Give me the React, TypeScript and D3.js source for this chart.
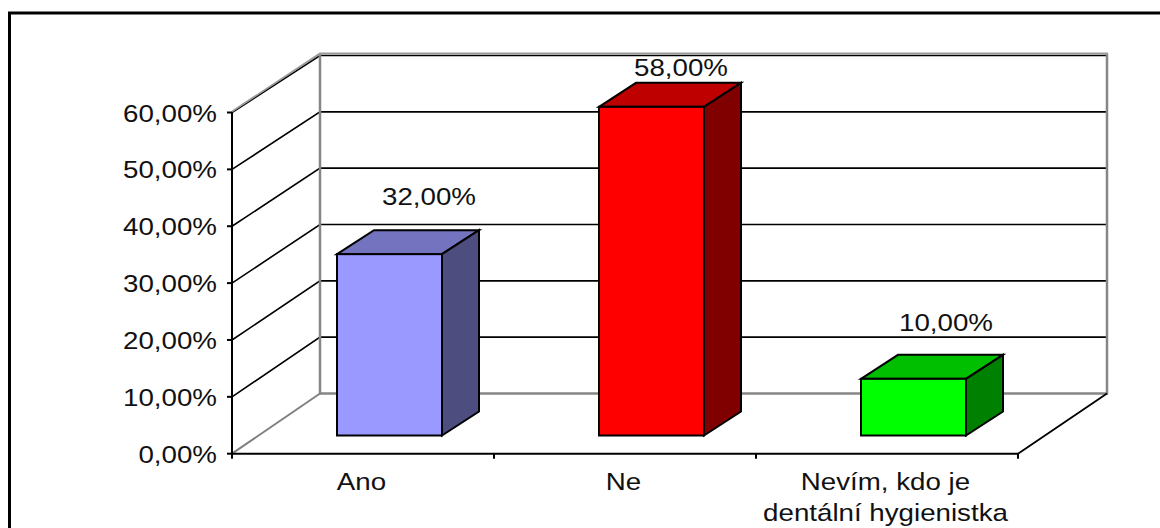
import React from "react";
import * as d3 from "d3";

const categories = ["Ano", "Ne", "Nevím, kdo je|dentální hygienistka"];
const shares = [32, 58, 10];
const yTicks = [0, 10, 20, 30, 40, 50, 60];
const faceColors = ["#9999ff", "#ff0000", "#00ff00"];
const topColors = ["#7373bf", "#bf0000", "#00bf00"];
const sideColors = ["#4d4d80", "#800000", "#008000"];

const FONT = "'Liberation Sans', Arial, sans-serif";
const fmt = (v: number) => v.toFixed(2).replace(".", ",") + "%";

// Front plane of the plot and the oblique offset to the back wall.
const x0 = 232;
const x1 = 1018;
const depthX = 88;

// Bars stand part way into the floor; these give the run of the bar depth.
const barDepthX = 37;
const barDepthY = -24;
const barWidth = 105;
const barFrontX = 26.5;

// Offsets of each value label from the centre and back-top edge of its bar.
const labelShiftX = [39.5, 29.5, 32.5];
const labelShiftY = [-25, -7, -24];

// All chart text uses a horizontally widened sans-serif.
function Label(props: { x: number; y: number; anchor: string; children: React.ReactNode }) {
  return (
    <text
      transform={`translate(${props.x},${props.y}) scale(1.155,1)`}
      textAnchor={props.anchor}
      stroke="none"
      fill="#111"
    >
      {props.children}
    </text>
  );
}

export default function App() {
  const x = d3.scaleBand<string>().domain(categories).range([x0, x1]);
  const y = d3.scaleLinear().domain([0, 60]).range([453.7, 112.5]);
  const yBack = d3.scaleLinear().domain([0, 60]).range([393.5, 55.5]);
  const yBar = d3.scaleLinear().domain([0, 60]).range([435.5, 95.5]);
  const line = d3.line<[number, number]>();

  const backL = x0 + depthX;
  const backR = x1 + depthX + 1;

  return (
    <svg
      width={1160}
      height={528}
      style={{ position: "absolute", left: 0, top: 0, background: "#fff" }}
      fontFamily={FONT}
      fontSize={24}
    >
      {/* outer chart frame, running past the right and bottom of the page */}
      <rect x={9.5} y={13} width={1180} height={560} fill="none" stroke="#000" strokeWidth={3} />

      {/* gridlines wrapping the side wall and back wall */}
      {yTicks.filter((t) => t > 0).map((t) => (
        <path
          key={t}
          d={line([
            [x0, y(t)],
            [backL, yBack(t)],
            [backR, yBack(t)],
          ]) ?? ""}
          fill="none"
          stroke="#000"
          strokeWidth={1.6}
        />
      ))}

      {/* back wall, floor outline and the grey edge above the top gridline */}
      <path
        d={`M${backL},${yBack(60) - 2}V${yBack(0)}H${backR}V${yBack(60) - 2}`}
        fill="none"
        stroke="#868686"
        strokeWidth={2.5}
      />
      <path
        d={`M${x0},${y(60) - 1}L${backL},${yBack(60) - 2}H${backR + 1}`}
        fill="none"
        stroke="#999"
        strokeWidth={1.8}
      />
      <path
        d={line([[x0, y(0)], [backL, yBack(0)]]) ?? ""}
        fill="none"
        stroke="#808080"
        strokeWidth={2}
      />
      <path
        d={line([[x1, y(0)], [backR, yBack(0)]]) ?? ""}
        fill="none"
        stroke="#000"
        strokeWidth={1.8}
      />

      {/* value axis */}
      <line x1={x0} x2={x0} y1={y(0)} y2={y(60)} stroke="#000" strokeWidth={2} />
      {yTicks.map((t) => (
        <g key={t}>
          <line x1={x0 - 5} x2={x0} y1={y(t)} y2={y(t)} stroke="#000" strokeWidth={2} />
          <Label x={217} y={y(t) + 9} anchor="end">
            {fmt(t)}
          </Label>
        </g>
      ))}

      {/* category axis */}
      <line x1={x0 - 1} x2={x1} y1={y(0)} y2={y(0)} stroke="#000" strokeWidth={2} />
      {[0, 1, 2, 3].map((i) => {
        const tx = x0 + i * x.step();
        return <line key={i} x1={tx} x2={tx} y1={y(0)} y2={y(0) + 5} stroke="#000" strokeWidth={2} />;
      })}
      {categories.map((c) => {
        const cx = (x(c) ?? 0) + x.bandwidth() / 2 - 1.5;
        return c.split("|").map((part, i) => (
          <Label key={part} x={cx} y={489.5 + i * 31.5} anchor="middle">
            {part}
          </Label>
        ));
      })}

      {/* bars, each a front face with a shaded top and side */}
      {categories.map((c, i) => {
        const v = shares[i];
        const gap = (x.bandwidth() - barWidth) / 2;
        const left = (x(c) ?? 0) + gap + barFrontX;
        const right = left + barWidth;
        const top = yBar(v);
        const bottom = yBar(0);
        return (
          <g key={c} stroke="#000" strokeWidth={2} strokeLinejoin="miter">
            <path
              d={`M${left},${top}l${barDepthX},${barDepthY}H${right + barDepthX}L${right},${top}Z`}
              fill={topColors[i]}
            />
            <path
              d={`M${right},${top}l${barDepthX},${barDepthY}V${bottom + barDepthY}L${right},${bottom}Z`}
              fill={sideColors[i]}
            />
            <rect x={left} y={top} width={barWidth} height={bottom - top} fill={faceColors[i]} />
            <Label
              x={(left + right) / 2 + labelShiftX[i]}
              y={top + barDepthY + labelShiftY[i]}
              anchor="middle"
            >
              {fmt(v)}
            </Label>
          </g>
        );
      })}
    </svg>
  );
}
